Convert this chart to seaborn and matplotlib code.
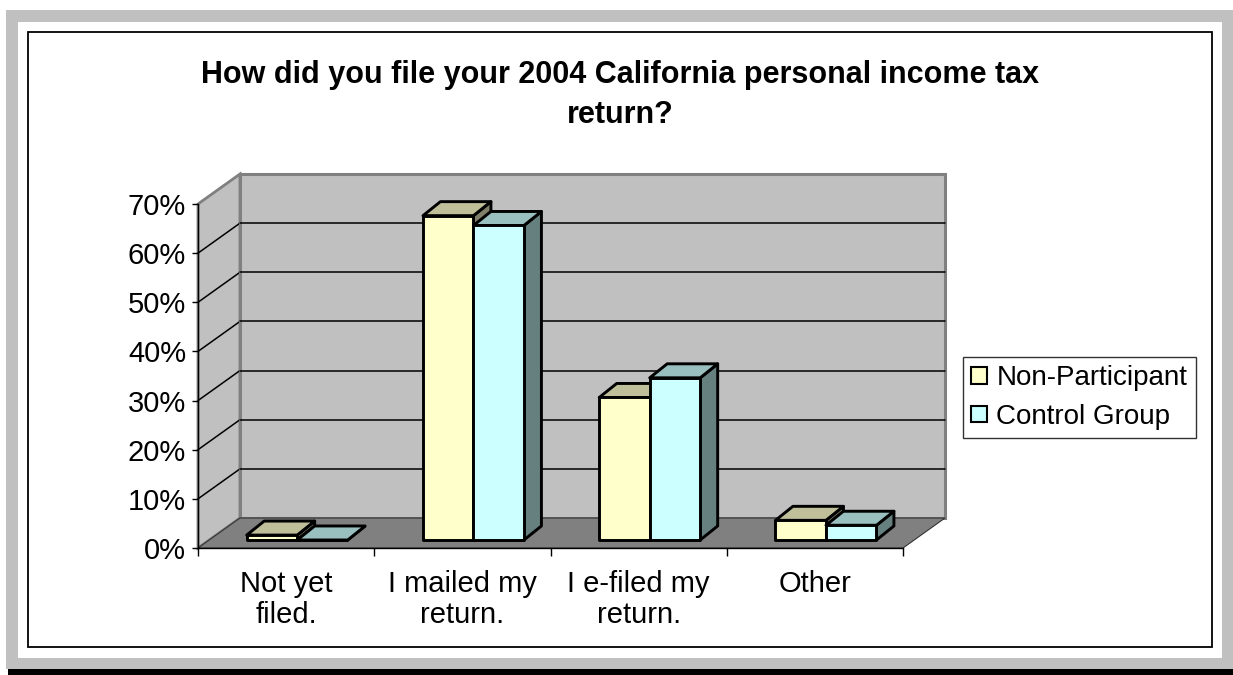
import numpy as np
import pandas as pd
import matplotlib
matplotlib.use("Agg")
import matplotlib.pyplot as plt
from matplotlib.patches import Polygon, Rectangle, Patch
from matplotlib.lines import Line2D
from matplotlib.ticker import PercentFormatter, FixedLocator
import seaborn as sns

# ---- data -------------------------------------------------------------
categories = ["Not yet\nfiled.", "I mailed my\nreturn.", "I e-filed my\nreturn.", "Other"]
groups = ["Non-Participant", "Control Group"]
non_participant = [1, 66, 29, 4]
control_group = [0, 64, 33, 3]
y_ticks = [0, 10, 20, 30, 40, 50, 60, 70]
title = "How did you file your 2004 California personal income tax\nreturn?"

# ---- styling ------------------------------------------------------------
front_colors = ["#FFFFCC", "#CCFFFF"]
top_colors = ["#BFBF99", "#99BFBF"]
side_colors = ["#80806A", "#668080"]
wall_color = "#C0C0C0"
wall_edge = "#808080"
floor_color = "#808080"

df = pd.DataFrame({
    "category": categories * 2,
    "group": [groups[0]] * len(categories) + [groups[1]] * len(categories),
    "value": non_participant + control_group,
})

W, H = 1233, 675
sns.set_theme(style="white")
plt.rcParams["font.family"] = ["Liberation Sans", "DejaVu Sans"]
plt.rcParams["text.color"] = "black"
plt.rcParams["legend.labelcolor"] = "black"

fig = plt.figure(figsize=(W / 100, H / 100), dpi=100)
fig.patch.set_facecolor("white")


def frect(x0, y0, x1, y1, z, **kw):
    """Rectangle on the figure given in pixels from the top-left corner."""
    r = Rectangle((x0 / W, 1 - y1 / H), (x1 - x0) / W, (y1 - y0) / H,
                  transform=fig.transFigure, zorder=z, **kw)
    fig.patches.append(r)


# page frame (kept behind the plot area)
frect(6, 10, W + 5, 669, -10, facecolor="#C0C0C0", edgecolor="none")
frect(18, 22, 1222, 658, -9, facecolor="white", edgecolor="none")
frect(28, 32, 1212, 647, -8, facecolor="none", edgecolor="black", linewidth=1.3)
frect(8, 669, W + 5, H + 5, -7, facecolor="black", edgecolor="none")

# plot area = front plane of the 3-D box
ax = fig.add_axes([198 / W, 1 - 548 / H, 705 / W, 344 / H])
ax.set_facecolor("none")

sns.barplot(data=df, x="category", y="value", hue="group", order=categories,
            hue_order=groups, palette=front_colors, saturation=1, width=0.573,
            edgecolor="black", linewidth=2.1, errorbar=None, legend=False, ax=ax)
bars = list(ax.patches)

XMIN, XMAX, YMAX = -0.5, len(categories) - 0.5, 70
ax.set_xlim(XMIN, XMAX)
ax.set_ylim(0, YMAX)

# depth of the box and of the bars (data units)
DX, DY = 0.238, 6.1
BX0, BY0 = 0.063, 1.63      # bar front plane offset
BDX, BDY = 0.099, 2.85      # bar depth

# walls and floor
left_wall = Polygon([(XMIN, 0), (XMIN, YMAX), (XMIN + DX, YMAX + DY), (XMIN + DX, DY)],
                    closed=True, facecolor=wall_color, edgecolor=wall_edge,
                    linewidth=2, zorder=0.5, clip_on=False)
back_wall = Polygon([(XMIN + DX, DY), (XMIN + DX, YMAX + DY), (XMAX + DX, YMAX + DY), (XMAX + DX, DY)],
                    closed=True, facecolor=wall_color, edgecolor=wall_edge,
                    linewidth=2.2, zorder=0.6, clip_on=False)
floor = Polygon([(XMIN, 0), (XMAX, 0), (XMAX + DX, DY), (XMIN + DX, DY)],
                closed=True, facecolor=floor_color, edgecolor="#333333",
                linewidth=0.8, zorder=0.7, clip_on=False)
for p in (left_wall, back_wall, floor):
    ax.add_patch(p)

for v in y_ticks[1:-1]:
    ax.add_line(Line2D([XMIN + DX, XMAX + DX], [v + DY, v + DY], color="black",
                       linewidth=1.1, zorder=0.65, clip_on=False))
    ax.add_line(Line2D([XMIN, XMIN + DX], [v, v + DY], color="black",
                       linewidth=1.1, zorder=0.55, clip_on=False))

# extrude the bars: shift to the bar plane and add top and side faces
n = len(categories)
order = sorted(range(len(bars)), key=lambda i: bars[i].get_x())
for k, i in enumerate(order):
    p = bars[i]
    g = i // n
    x0 = p.get_x() + BX0
    w = p.get_width()
    h = p.get_height()
    p.set_x(x0)
    p.set_y(BY0)
    base = 5 + 3 * k
    y0, y1 = BY0, BY0 + h
    side = Polygon([(x0 + w, y0), (x0 + w + BDX, y0 + BDY), (x0 + w + BDX, y1 + BDY), (x0 + w, y1)],
                   closed=True, facecolor=side_colors[g], edgecolor="black",
                   linewidth=2.1, joinstyle="round", zorder=base, clip_on=False)
    top = Polygon([(x0, y1), (x0 + w, y1), (x0 + w + BDX, y1 + BDY), (x0 + BDX, y1 + BDY)],
                  closed=True, facecolor=top_colors[g], edgecolor="black",
                  linewidth=2.1, joinstyle="round", zorder=base + 1, clip_on=False)
    ax.add_patch(side)
    ax.add_patch(top)
    p.set_zorder(base + 2)
    p.set_clip_on(False)
    p.set_joinstyle("round")

# axes, ticks and labels
for s in ("top", "right"):
    ax.spines[s].set_visible(False)
for s in ("left", "bottom"):
    ax.spines[s].set_color("black")
    ax.spines[s].set_linewidth(1.0)
    ax.spines[s].set_zorder(0.9)

ax.yaxis.set_major_locator(FixedLocator(y_ticks))
ax.yaxis.set_major_formatter(PercentFormatter(decimals=0))
ax.tick_params(axis="y", left=True, direction="out", length=4.5, width=1,
               color="black", labelsize=21, pad=4, labelcolor="black")

ax.set_xticks(range(n))
ax.set_xticklabels(categories, linespacing=1.13)
ax.set_xticks(np.arange(XMIN, XMAX + 0.5, 1), minor=True)
ax.tick_params(axis="x", which="major", bottom=True, length=0, labelsize=21,
               pad=16, labelcolor="black")
ax.tick_params(axis="x", which="minor", bottom=True, direction="out", length=6,
               width=1, color="black")
ax.set_xlabel("")
ax.set_ylabel("")

fig.text(620 / W, 1 - 95 / H, title, ha="center", va="center", fontsize=22,
         fontweight="bold", linespacing=1.4, color="black")

handles = [Patch(facecolor=c, edgecolor="black", linewidth=1.5) for c in front_colors]
leg = fig.legend(handles, groups, loc="upper left",
                 bbox_to_anchor=(963 / W, 1 - 357 / H), frameon=True, fancybox=False,
                 edgecolor="black", fontsize=20, handlelength=0.55, handleheight=0.55,
                 handletextpad=0.35, borderpad=0.3, labelspacing=0.45,
                 borderaxespad=0)
leg.get_frame().set_linewidth(1.0)
leg.get_frame().set_facecolor("white")

fig.savefig("out.png", dpi=100, facecolor="white")
